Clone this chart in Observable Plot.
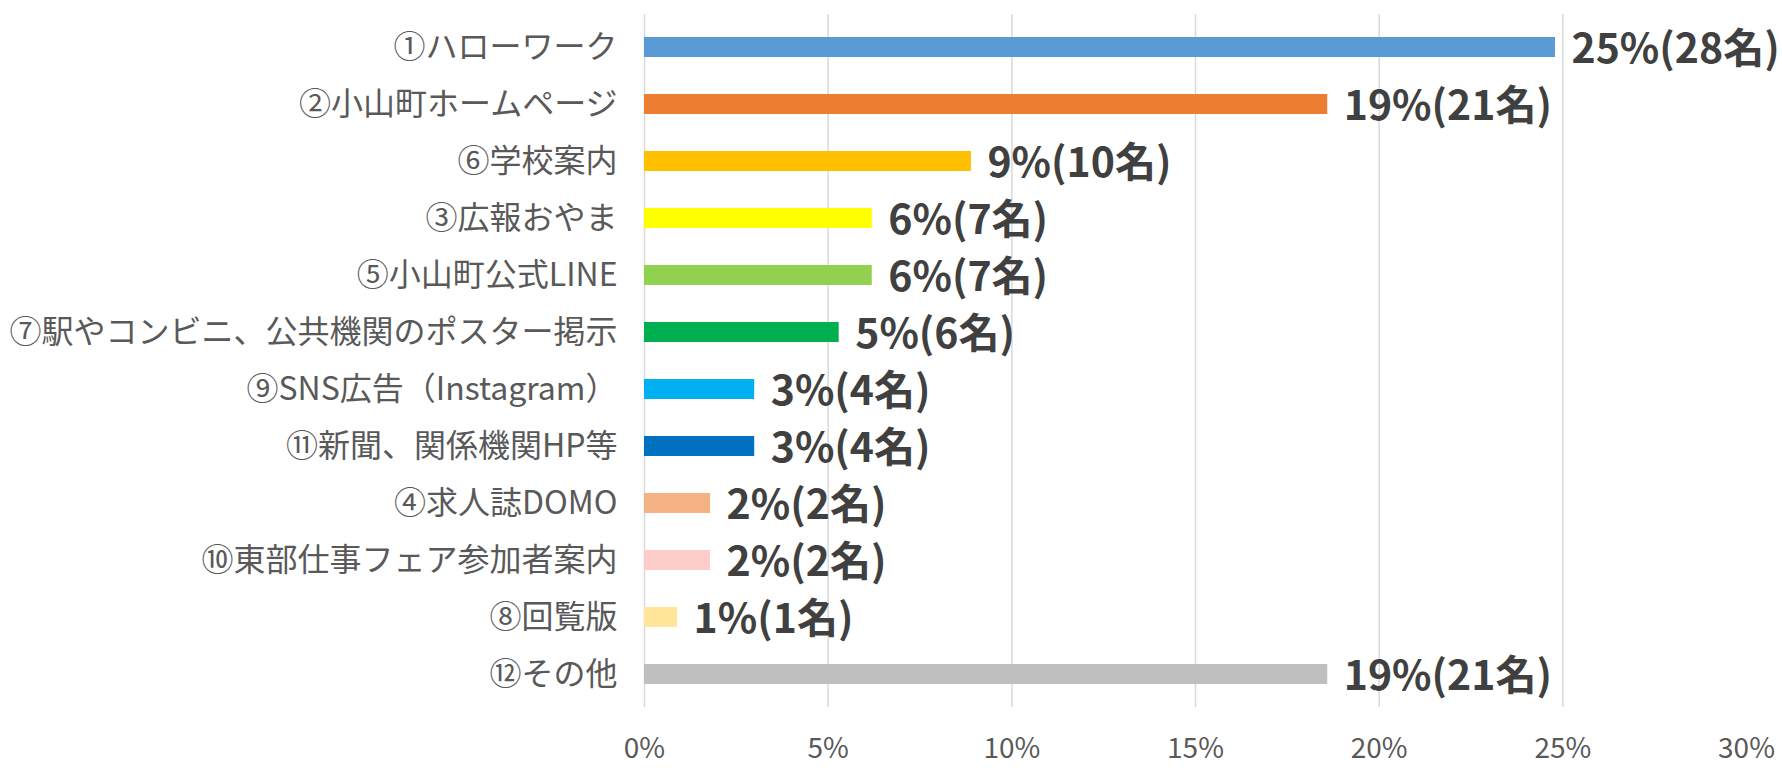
<!DOCTYPE html>
<html>
<head>
<meta charset="utf-8">
<script src="https://cdn.jsdelivr.net/npm/d3@7"></script>
<script src="https://cdn.jsdelivr.net/npm/@observablehq/plot@0.6"></script>
<style>
  html, body { margin: 0; padding: 0; background: #fff; }
  #chart { width: 1782px; height: 768px; }
</style>
</head>
<body>
<div id="chart"></div>
<script>
const categories = [
  "①ハローワーク",
  "②小山町ホームページ",
  "⑥学校案内",
  "③広報おやま",
  "⑤小山町公式LINE",
  "⑦駅やコンビニ、公共機関のポスター掲示",
  "⑨SNS広告（Instagram）",
  "⑪新聞、関係機関HP等",
  "④求人誌DOMO",
  "⑩東部仕事フェア参加者案内",
  "⑧回覧版",
  "⑫その他"
];
const percents = [24.8, 18.6, 8.9, 6.2, 6.2, 5.3, 3.0, 3.0, 1.8, 1.8, 0.9, 18.6];
const counts = [28, 21, 10, 7, 7, 6, 4, 4, 2, 2, 1, 21];
const colors = ["#5B9BD5", "#ED7D31", "#FFC000", "#FFFF00", "#92D050", "#00B050",
                "#00B0F0", "#0070C0", "#F4B183", "#FFCCCC", "#FFE699", "#BFBFBF"];
const xTicks = [0, 5, 10, 15, 20, 25, 30];
const gridTicks = [0, 5, 10, 15, 20, 25];

const data = categories.map((c, i) => ({
  category: c,
  value: percents[i],
  label: `${Math.round(percents[i])}%(${counts[i]}名)`
}));

const chart = Plot.plot({
  width: 1782,
  height: 768,
  marginLeft: 644,
  marginRight: 36,
  marginTop: 14,
  marginBottom: 61,
  style: {
    fontFamily: "'Noto Sans CJK JP', 'Noto Sans', sans-serif",
    color: "#595959",
    background: "#fff"
  },
  x: { domain: [0, 30] },
  y: { domain: categories, paddingInner: 0.645, paddingOuter: 0.31 },
  color: { domain: categories, range: colors },
  marks: [
    Plot.ruleX(gridTicks, { stroke: "#D9D9D9", strokeWidth: 1.5 }),
    Plot.barX(data, { x: "value", y: "category", fill: "category" }),
    Plot.text(data, {
      x: "value", y: "category", text: "label",
      textAnchor: "start", dx: 16, dy: 2,
      fontSize: 41, fontWeight: "bold", fill: "#404040"
    }),
    Plot.axisY({ tickSize: 0, tickPadding: 27, fontSize: 32, label: null }),
    Plot.axisX({ ticks: xTicks, tickFormat: d => d + "%", tickSize: 0, tickPadding: 31, fontSize: 28, label: null })
  ]
});
document.getElementById("chart").appendChild(chart);
</script>
</body>
</html>
